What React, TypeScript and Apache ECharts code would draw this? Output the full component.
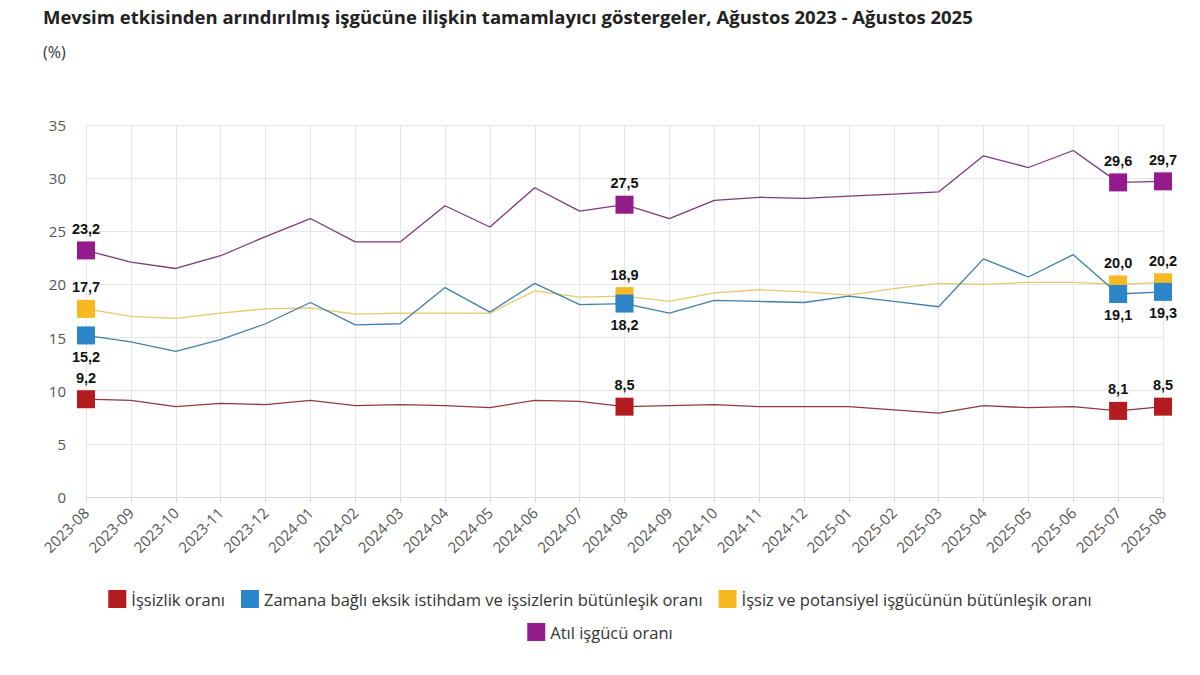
import React, { useEffect, useRef } from "react";
import * as echarts from "echarts";

const categories = [
  "2023-08", "2023-09", "2023-10", "2023-11", "2023-12",
  "2024-01", "2024-02", "2024-03", "2024-04", "2024-05", "2024-06", "2024-07",
  "2024-08", "2024-09", "2024-10", "2024-11", "2024-12",
  "2025-01", "2025-02", "2025-03", "2025-04", "2025-05", "2025-06", "2025-07", "2025-08",
];

const issizlik = [9.2, 9.1, 8.5, 8.8, 8.7, 9.1, 8.6, 8.7, 8.6, 8.4, 9.1, 9.0, 8.5, 8.6, 8.7, 8.5, 8.5, 8.5, 8.2, 7.9, 8.6, 8.4, 8.5, 8.1, 8.5];
const zamanaBagli = [15.2, 14.6, 13.7, 14.8, 16.3, 18.3, 16.2, 16.3, 19.7, 17.4, 20.1, 18.1, 18.2, 17.3, 18.5, 18.4, 18.3, 18.9, 18.4, 17.9, 22.4, 20.7, 22.8, 19.1, 19.3];
const issizPotansiyel = [17.7, 17.0, 16.8, 17.3, 17.7, 17.8, 17.2, 17.3, 17.3, 17.3, 19.4, 18.8, 18.9, 18.4, 19.2, 19.5, 19.3, 19.0, 19.6, 20.1, 20.0, 20.2, 20.2, 20.0, 20.2];
const atil = [23.2, 22.1, 21.5, 22.7, 24.5, 26.2, 24.0, 24.0, 27.4, 25.4, 29.1, 26.9, 27.5, 26.2, 27.9, 28.2, 28.1, 28.3, 28.5, 28.7, 32.1, 31.0, 32.6, 29.6, 29.7];

const highlighted = [0, 12, 23, 24];

const seriesNames = [
  "İşsizlik oranı",
  "Zamana bağlı eksik istihdam ve işsizlerin bütünleşik oranı",
  "İşsiz ve potansiyel işgücünün bütünleşik oranı",
  "Atıl işgücü oranı",
];
const colors = ["#b31b1f", "#2c85c8", "#f6b922", "#941b8c"];
const lineColors = ["#8e3a3c", "#3f7fa8", "#e8c86a", "#7e3a78"];
const labelPositions = ["top", "bottom", "top", "top"];
const zOrder = [2, 4, 3, 5];

const FONT = "'Open Sans', 'Noto Sans', sans-serif";

const fmt = (v: number) => v.toFixed(1).replace(".", ",");

export default function App() {
  const ref = useRef<HTMLDivElement>(null);

  useEffect(() => {
    if (!ref.current) return;
    document.body.style.margin = "0";
    const chart = echarts.init(ref.current, undefined, { renderer: "svg" });
    const allData = [issizlik, zamanaBagli, issizPotansiyel, atil];

    const series = allData.map((arr, s) => ({
      name: seriesNames[s],
      type: "line",
      symbol: "none",
      z: zOrder[s],
      lineStyle: { color: lineColors[s], width: 1.3 },
      itemStyle: { color: colors[s] },
      data: arr.map((v, i) =>
        highlighted.includes(i)
          ? {
              value: v,
              symbol: "rect",
              symbolSize: 18,
              label: {
                show: true,
                position: labelPositions[s],
                distance: 5,
                formatter: (p: any) => fmt(p.value),
                color: "#111",
                fontWeight: "bold",
                fontSize: 14.5,
                fontFamily: "Arial, 'Liberation Sans', sans-serif",
              },
            }
          : v
      ),
    }));

    chart.setOption({
      animation: false,
      backgroundColor: "#ffffff",
      color: colors,
      title: [
        {
          text: "Mevsim etkisinden arındırılmış işgücüne ilişkin tamamlayıcı göstergeler, Ağustos 2023 - Ağustos 2025",
          left: 38,
          top: 2,
          textStyle: { fontFamily: FONT, fontSize: 18.5, fontWeight: "bold", color: "#222" },
        },
        {
          text: "(%)",
          left: 38,
          top: 39,
          textStyle: { fontFamily: FONT, fontSize: 16, fontWeight: "normal", color: "#333" },
        },
      ],
      legend: [
        {
          data: seriesNames.slice(0, 3).map((n) => ({ name: n, icon: "rect" })),
          left: "center",
          top: 585,
          itemWidth: 18,
          itemHeight: 18,
          itemGap: 16,
          textStyle: { fontFamily: FONT, fontSize: 16.5, color: "#333" },
          selectedMode: false,
        },
        {
          data: [{ name: seriesNames[3], icon: "rect" }],
          left: "center",
          top: 618,
          itemWidth: 18,
          itemHeight: 18,
          textStyle: { fontFamily: FONT, fontSize: 16.5, color: "#333" },
          selectedMode: false,
        },
      ],
      grid: { left: 86, right: 37, top: 125, bottom: 178, containLabel: false },
      xAxis: {
        type: "category",
        data: categories,
        boundaryGap: false,
        axisLine: { show: true, lineStyle: { color: "#d9d9d9" } },
        axisTick: { show: true, alignWithLabel: true, length: 6, lineStyle: { color: "#d9d9d9" } },
        axisLabel: {
          rotate: 45,
          interval: 0,
          fontFamily: FONT,
          fontSize: 15,
          color: "#555",
          margin: 13,
        },
        splitLine: { show: true, lineStyle: { color: "#e6e6e6" } },
      },
      yAxis: {
        type: "value",
        min: 0,
        max: 35,
        interval: 5,
        axisLine: { show: false },
        axisTick: { show: false },
        axisLabel: { fontFamily: FONT, fontSize: 15, color: "#555", margin: 20 },
        splitLine: { show: true, lineStyle: { color: "#e6e6e6" } },
      },
      series,
    });

    return () => chart.dispose();
  }, []);

  return <div ref={ref} style={{ width: 1200, height: 675 }} />;
}
